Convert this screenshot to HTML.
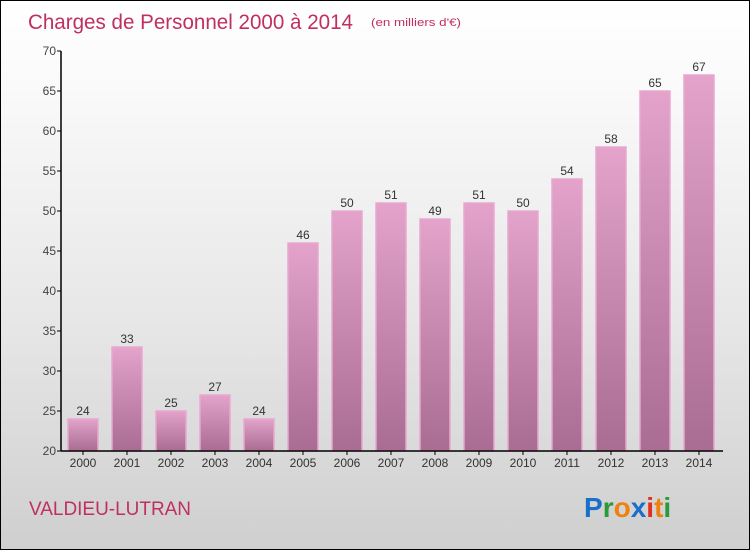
<!DOCTYPE html>
<html><head><meta charset="utf-8"><style>
body{margin:0}
#c{width:748px;height:548px;border:1px solid #000;background:linear-gradient(#fff,#fafafa 15%,#e6e6e6 60%,#cfcfcf);position:relative;font-family:"Liberation Sans",sans-serif;overflow:hidden}
svg{position:absolute;left:0;top:0}
</style></head><body>
<div id="c">
<svg id="s" width="750" height="550">
<defs><linearGradient id="g" x1="0" y1="0" x2="0" y2="1"><stop offset="0" stop-color="#e3a3cb"/><stop offset="1" stop-color="#a96c92"/></linearGradient></defs>
<text x="27" y="28" font-size="21" fill="#c0305f" textLength="325" lengthAdjust="spacingAndGlyphs">Charges de Personnel 2000 à 2014</text>
<text x="370" y="25" font-size="11" fill="#c0305f" textLength="90" lengthAdjust="spacingAndGlyphs">(en milliers d'€)</text>
<text x="28" y="514" font-size="19" fill="#c0305f" textLength="162" lengthAdjust="spacingAndGlyphs">VALDIEU-LUTRAN</text>
<g font-size="28" font-weight="bold" font-family="Liberation Sans, sans-serif">
<text x="583" y="516"><tspan fill="#1a6fc8">P</tspan><tspan fill="#2a9a3a">r</tspan><tspan fill="#f08010">o</tspan><tspan fill="#1a6fc8">x</tspan><tspan fill="#e03020">i</tspan><tspan fill="#f08010">t</tspan><tspan fill="#2a9a3a">i</tspan></text>
</g>
</svg>
</div>
<script>
const years=["2000","2001","2002","2003","2004","2005","2006","2007","2008","2009","2010","2011","2012","2013","2014"];
const values=[24,33,25,27,24,46,50,51,49,51,50,54,58,65,67];
const yTicks=[20,25,30,35,40,45,50,55,60,65,70];
const s=document.getElementById('s');
const NS='http://www.w3.org/2000/svg';
const y=v=>450-(v-20)*8;
const x=i=>82+i*44;
function mk(t,a){const e=document.createElementNS(NS,t);for(const k in a)e.setAttribute(k,a[k]);s.appendChild(e);return e;}
values.forEach((v,i)=>{
 const r=mk('rect',{x:x(i)-15,y:y(v),width:30,height:450-y(v),fill:'url(#g)',stroke:'#e8a8d0','stroke-width':1.5});
 
 
 const t=mk('text',{x:x(i),y:y(v)-4,'text-anchor':'middle','font-size':12,fill:'#333'});
 t.textContent=v;
 
 
 const xl=mk('text',{x:x(i),y:466,'text-anchor':'middle','font-size':12,fill:'#333'});
 xl.textContent=years[i];
 
 
 const tk=mk('line',{x1:x(i),x2:x(i),y1:450,y2:454,stroke:'#000'});
 
 
});
yTicks.forEach(v=>{
 const l=mk('line',{x1:56,x2:60,y1:y(v),y2:y(v),stroke:'#000'});
 
 
 const t=mk('text',{x:55,y:y(v)+4,'text-anchor':'end','font-size':12,fill:'#444'});
 t.textContent=v;
 
 
});
const ya=mk('line',{x1:60,x2:60,y1:50,y2:450,stroke:'#000','stroke-width':1.5});


const xa=mk('line',{x1:60,x2:722,y1:450,y2:450,stroke:'#000','stroke-width':1.5});


</script>
</body></html>
